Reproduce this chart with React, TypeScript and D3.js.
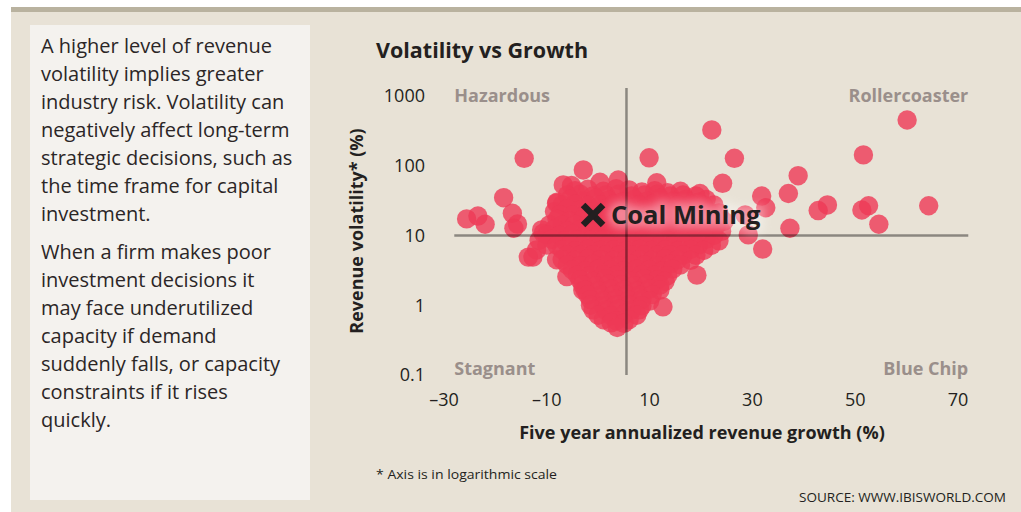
import React from "react";
import * as d3 from "d3";

const W = 1021;
const H = 512;

const panelLines1 = [
  "A higher level of revenue",
  "volatility implies greater",
  "industry risk. Volatility can",
  "negatively affect long-term",
  "strategic decisions, such as",
  "the time frame for capital",
  "investment.",
];
const panelLines2 = [
  "When a firm makes poor",
  "investment decisions it",
  "may face underutilized",
  "capacity if demand",
  "suddenly falls, or capacity",
  "constraints if it rises",
  "quickly.",
];

const xTicks = [-30, -10, 10, 30, 50, 70];
const xTickLabels = ["–30", "–10", "10", "30", "50", "70"];
const yTicks = [0.1, 1, 10, 100, 1000];
const yTickLabels = ["0.1", "1", "10", "100", "1000"];

const quadrants = [
  { name: "Hazardous", x: -28, y: 1000, anchor: "start" },
  { name: "Rollercoaster", x: 72, y: 1000, anchor: "end" },
  { name: "Stagnant", x: -28, y: 0.1, anchor: "start" },
  { name: "Blue Chip", x: 72, y: 0.1, anchor: "end" },
];

const avgGrowth = 5.5;
const refVolatility = 10;

// outlying industries [growth %, volatility %]
const outlierPoints: [number, number][] = [
  [-14.4, 128], [-25.6, 17.3], [-23.4, 19], [-22.0, 14.5], [-18.4, 34.8],
  [-16.7, 20.8], [-15.7, 14.6], [-16.4, 12.7], [-2.9, 87], [-6.8, 53],
  [-5.2, 52], [0.35, 58], [3.9, 62.5], [9.9, 130], [-8.1, 29],
  [-12.7, 4.9], [-12.0, 6.2], [-10.7, 10.8], [26.5, 128], [24.2, 56],
  [31.8, 36.8], [32.6, 25], [37, 40], [37.3, 12.7], [32, 6.4],
  [28.6, 19.7], [29.2, 10.2], [19.8, 40], [21.0, 33], [11.4, 57],
  [22.1, 326], [38.9, 72], [42.8, 22.8], [44.6, 27.4], [51.6, 143],
  [60.1, 453], [51.3, 23.2], [52.6, 26.7], [54.6, 14.5], [64.3, 26.7],
  [19.2, 2.7], [12.6, 0.95], [-13.6, 4.9], [-8.1, 4.5], [-6.1, 2.57], [-3, 1.65],
];

// dense core, upper part
const clusterUpper: [number, number][] = [
  [-4.5, 44], [-2, 46], [1, 43], [3.5, 47], [6, 45], [8.5, 42], [11, 44], [13.5, 41], [16, 43],
  [-6, 38], [-3.5, 39], [-1, 37], [1.5, 38], [4, 39], [6.5, 37], [9, 38], [11.5, 39], [14, 37], [16.5, 38], [19, 37],
  [-8, 30], [-5.5, 33], [-3, 31], [-0.5, 34], [2, 32], [4.5, 30], [7, 33], [9.5, 31], [12, 34], [14.5, 31], [17, 33], [19.5, 30],
  [-7, 27.4], [-4.5, 28], [-2, 27], [0.5, 27.4], [3, 28], [5.5, 27], [8, 27.4], [10.5, 28], [13, 27], [15.5, 27.4], [18, 28], [20.5, 27], [22.5, 27.4],
  [-8.5, 22], [-6, 24], [-3.5, 23], [-1, 22], [1.5, 24], [4, 23], [6.5, 22], [9, 24], [11.5, 23], [14, 22], [16.5, 24], [19, 23], [21.5, 22], [23.5, 21],
  [-7.5, 19.7], [-5, 19.5], [-2.5, 20], [0, 19.7], [2.5, 19.5], [5, 20], [7.5, 19.7], [10, 19.5], [12.5, 20], [15, 19.7], [17.5, 19.5], [20, 20], [22.5, 19.7],
  [-8, 17], [-5.5, 16], [-3, 17], [-0.5, 16], [2, 17], [4.5, 16], [7, 17], [9.5, 16], [12, 17], [14.5, 16], [17, 17], [19.5, 16], [22, 17], [24.5, 16],
];

// dense core, middle part
const clusterMiddle: [number, number][] = [
  [-9.5, 14.2], [-7, 14], [-4.5, 14.4], [-2, 14.2], [0.5, 14], [3, 14.4], [5.5, 14.2], [8, 14], [10.5, 14.4], [13, 14.2], [15.5, 14], [18, 14.4], [20.5, 14.2], [23, 14],
  [-11, 12], [-8.5, 12.5], [-6, 11.5], [-3.5, 12], [-1, 12.5], [1.5, 11.5], [4, 12], [6.5, 12.5], [9, 11.5], [11.5, 12], [14, 12.5], [16.5, 11.5], [19, 12], [21.5, 12.5], [24, 11.5],
  [-10, 10.2], [-7.5, 10], [-5, 10.4], [-2.5, 10.2], [0, 10], [2.5, 10.4], [5, 10.2], [7.5, 10], [10, 10.4], [12.5, 10.2], [15, 10], [17.5, 10.4], [20, 10.2], [22.5, 10],
  [-11.5, 8.5], [-9, 8.8], [-6.5, 8.4], [-4, 8.7], [-1.5, 8.5], [1, 8.8], [3.5, 8.4], [6, 8.7], [8.5, 8.5], [11, 8.8], [13.5, 8.4], [16, 8.7], [18.5, 8.5], [21, 8.8], [23.5, 8.4],
  [-10, 7.3], [-8, 7.2], [-5.5, 7.4], [-3, 7.3], [-0.5, 7.2], [2, 7.4], [4.5, 7.3], [7, 7.2], [9.5, 7.4], [12, 7.3], [14.5, 7.2], [17, 7.4], [19.5, 7.3], [22, 7.2],
  [-7, 6.2], [-4.5, 6.0], [-2, 6.3], [0.5, 6.1], [3, 6.2], [5.5, 6.0], [8, 6.3], [10.5, 6.1], [13, 6.2], [15.5, 6.0], [18, 6.3], [20.5, 6.1],
  [-6, 5.25], [-3.5, 5.2], [-1, 5.3], [1.5, 5.25], [4, 5.2], [6.5, 5.3], [9, 5.25], [11.5, 5.2], [14, 5.3], [16.5, 5.25], [19, 5.2],
];

// dense core, lower part
const clusterLower: [number, number][] = [
  [-7, 4.5], [-4.5, 4.4], [-2, 4.6], [0.5, 4.5], [3, 4.4], [5.5, 4.6], [8, 4.5], [10.5, 4.4], [13, 4.6], [15.5, 4.5], [18, 4.4],
  [-6, 3.78], [-3.5, 3.7], [-1, 3.85], [1.5, 3.78], [4, 3.7], [6.5, 3.85], [9, 3.78], [11.5, 3.7], [14, 3.85], [16, 3.78],
  [-5, 3.2], [-2.5, 3.1], [0, 3.3], [2.5, 3.2], [5, 3.1], [7.5, 3.3], [10, 3.2], [12.5, 3.1], [14.5, 3.3],
  [-4, 2.7], [-1.5, 2.65], [1, 2.75], [3.5, 2.7], [6, 2.65], [8.5, 2.75], [11, 2.7], [13.5, 2.65],
  [-3.5, 2.3], [-1, 2.2], [1.5, 2.4], [4, 2.3], [6.5, 2.2], [9, 2.4], [11.5, 2.3], [13, 2.2],
  [-3, 1.95], [-0.5, 1.9], [2, 2.0], [4.5, 1.95], [7, 1.9], [9.5, 2.0], [12, 1.95],
  [-2.5, 1.65], [0, 1.6], [2.5, 1.7], [5, 1.65], [7.5, 1.6], [10, 1.7], [12, 1.65],
  [-2, 1.4], [0.5, 1.38], [3, 1.42], [5.5, 1.4], [8, 1.38], [10.5, 1.42],
  [-1.5, 1.2], [1, 1.15], [3.5, 1.22], [6, 1.18], [8.5, 1.2], [10, 1.15],
  [-1.5, 1.0], [1, 0.98], [3.5, 1.02], [6, 1.0], [8.5, 0.98],
  [-1, 0.86], [1.5, 0.84], [4, 0.88], [6.5, 0.85], [8, 0.86],
  [0, 0.72], [2.5, 0.71], [5, 0.73], [7.5, 0.72],
  [1, 0.62], [3.5, 0.6], [6, 0.62],
  [2.5, 0.56], [5, 0.55],
  [3.7, 0.48],
];

const highlight = { x: -1.0, y: 19.7, label: "Coal Mining" };

const FONT = "'Open Sans', 'DejaVu Sans', sans-serif";

export default function App() {
  const x = d3.scaleLinear().domain([-30, 70]).range([444, 958]);
  const y = d3.scaleLog().domain([0.1, 1000]).range([375, 96]);

  const allPoints = [...outlierPoints, ...clusterUpper, ...clusterMiddle, ...clusterLower];
  const hx = x(highlight.x);
  const hy = y(highlight.y);

  return (
    <div style={{ position: "absolute", left: 0, top: 0 }}>
      <svg width={W} height={H} style={{ display: "block" }} fontFamily={FONT}>
        <defs>
          <filter id="glow" x="-20%" y="-60%" width="140%" height="220%">
            <feGaussianBlur stdDeviation="5" />
          </filter>
        </defs>
        <rect x={0} y={0} width={W} height={H} fill="#ffffff" />
        <rect x={11} y={7} width={W - 11} height={H - 7} fill="#e8e2d6" />
        <rect x={11} y={7} width={W - 11} height={5} fill="#b9b29f" />
        <rect x={30} y={25} width={280} height={475} fill="#f4f2ee" />

        <g fontSize={20} fill="#2b2626">
          {panelLines1.map((t, i) => (
            <text key={"a" + i} x={41} y={53 + i * 28}>{t}</text>
          ))}
          {panelLines2.map((t, i) => (
            <text key={"b" + i} x={41} y={259 + i * 28}>{t}</text>
          ))}
        </g>

        <text x={376} y={58} fontSize={21.5} fontWeight="bold" fill="#231f20">Volatility vs Growth</text>

        {yTicks.map((t, i) => (
          <text key={"yt" + i} x={425} y={y(t)} dy="0.35em" textAnchor="end" fontSize={18} fill="#231f20">
            {yTickLabels[i]}
          </text>
        ))}
        {xTicks.map((t, i) => (
          <text key={"xt" + i} x={x(t)} y={406} textAnchor="middle" fontSize={18} fill="#231f20">
            {xTickLabels[i]}
          </text>
        ))}

        {quadrants.map((q) => (
          <text key={q.name} x={x(q.x)} y={q.y === 1000 ? y(q.y) : y(q.y) - 6} dy="0.35em" textAnchor={q.anchor as any}
            fontSize={18} fontWeight="bold" fill="#9a8f8b">
            {q.name}
          </text>
        ))}

        <g>
          {allPoints.map((p, i) => (
            <circle key={i} cx={x(p[0])} cy={y(p[1])} r={9.7} fill="#ee3a56" fillOpacity={0.8} />
          ))}
        </g>

        <line x1={x(-28)} x2={x(72)} y1={y(refVolatility)} y2={y(refVolatility)} stroke="#000" strokeOpacity={0.4} strokeWidth={2.5} />
        <line x1={x(avgGrowth)} x2={x(avgGrowth)} y1={y(1300)} y2={y(0.1)} stroke="#000" strokeOpacity={0.4} strokeWidth={2.5} />

        <text x={hx + 18} y={hy} dy="0.35em" fontSize={25.5} fontWeight="bold" fill="#ffffff" stroke="#ffffff"
          strokeWidth={8} opacity={0.4} filter="url(#glow)">{highlight.label}</text>
        <g stroke="#231f20" strokeWidth={6.5}>
          <line x1={hx - 10} y1={hy - 10} x2={hx + 10} y2={hy + 10} />
          <line x1={hx - 10} y1={hy + 10} x2={hx + 10} y2={hy - 10} />
        </g>
        <text x={hx + 18} y={hy} dy="0.35em" fontSize={25.5} fontWeight="bold" fill="#231f20">{highlight.label}</text>

        <text x={357} y={231} transform="rotate(-90 357 231)" dy="0.35em" textAnchor="middle" fontSize={18}
          fontWeight="bold" fill="#231f20">Revenue volatility* (%)</text>
        <text x={702} y={439} textAnchor="middle" fontSize={18} fontWeight="bold" fill="#231f20">
          Five year annualized revenue growth (%)
        </text>

        <text x={376} y={479} fontSize={13} fill="#231f20" textLength={181} lengthAdjust="spacingAndGlyphs">* Axis is in logarithmic scale</text>
        <text x={799} y={502} fontSize={13} fill="#231f20" textLength={207} lengthAdjust="spacingAndGlyphs">SOURCE: WWW.IBISWORLD.COM</text>
      </svg>
    </div>
  );
}
